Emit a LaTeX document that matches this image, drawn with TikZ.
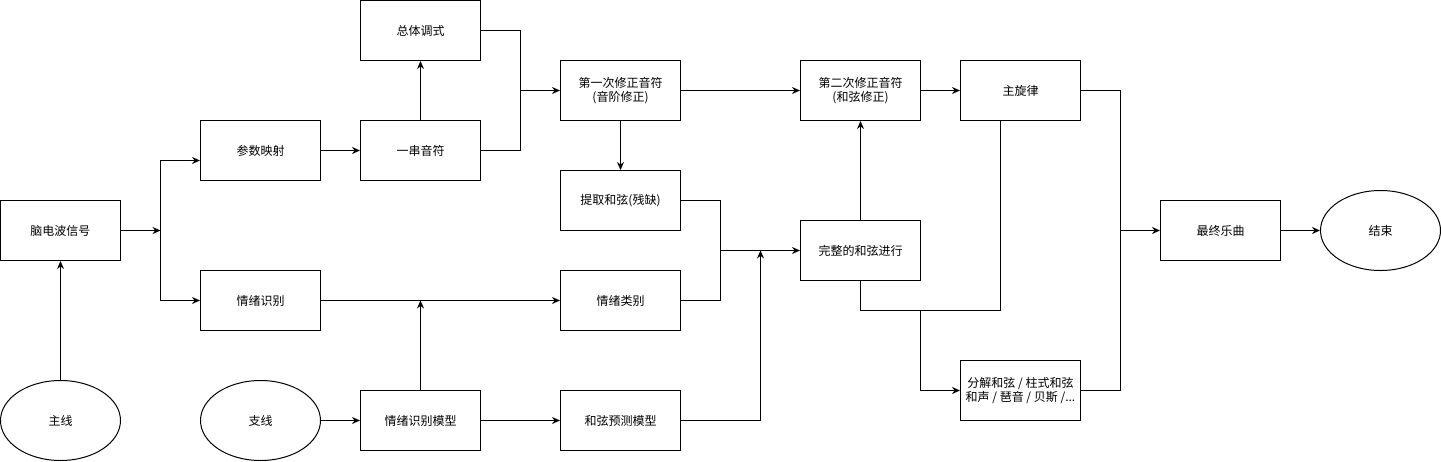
\documentclass[tikz,border=0pt]{standalone}
\usepackage{fontspec}
\setmainfont{Noto Sans CJK SC}
\usetikzlibrary{shapes.geometric,arrows.meta}
\begin{document}
\begin{tikzpicture}[x=1pt,y=-1pt,
  box/.style={draw,line width=1pt,minimum width=120pt,minimum height=60pt,inner sep=0pt,align=center,font=\fontsize{12pt}{14pt}\selectfont},
  oval/.style={draw,line width=1pt,ellipse,minimum width=120pt,minimum height=80pt,inner sep=0pt,font=\fontsize{12pt}{14pt}\selectfont},
  conn/.style={line width=1pt},
  arr/.style={line width=1pt,-{Stealth[length=8pt,width=7pt]}}]
\useasboundingbox (-0.5,-0.5) rectangle (1440.5,460.5);
\node[box] (eeg) at (60,230) {脑电波信号};
\node[box] (param) at (260,150) {参数映射};
\node[box] (notes) at (420,150) {一串音符};
\node[box] (mode) at (420,30) {总体调式};
\node[box] (fix1) at (620,90) {第一次修正音符\\(音阶修正)};
\node[box] (chord) at (620,200) {提取和弦(残缺)};
\node[box] (emocls) at (620,300) {情绪类别};
\node[box] (emo) at (260,300) {情绪识别};
\node[oval] (mainl) at (60,420) {主线};
\node[oval] (branch) at (260,420) {支线};
\node[box] (emomodel) at (420,420) {情绪识别模型};
\node[box] (chordmodel) at (620,420) {和弦预测模型};
\node[box] (fix2) at (860,90) {第二次修正音符\\(和弦修正)};
\node[box] (full) at (860,250) {完整的和弦进行};
\node[box] (melody) at (1020,90) {主旋律};
\node[box] (arrange) at (1020,390) {分解和弦 / 柱式和弦\\和声 / 琶音 / 贝斯 /...};
\node[box] (final) at (1220,230) {最终乐曲};
\node[oval] (endn) at (1380,230) {结束};
\coordinate (s1) at (160,230);
\coordinate (j1) at (520,90);
\coordinate (j2) at (720,250);
\coordinate (j3) at (760,250);
\coordinate (j4) at (1000,310);
\coordinate (j5) at (920,310);
\coordinate (j6) at (1120,230);
\draw[arr] (mainl.north) -- (eeg.south);
\draw[arr] (eeg.east) -- (s1);
\draw[arr] (s1) |- ([yshift=-10pt]param.west);
\draw[arr] (s1) |- (emo.west);
\draw[arr] (param.east) -- (notes.west);
\draw[arr] (notes.north) -- (mode.south);
\draw[conn] (mode.east) -| (j1);
\draw[conn] (notes.east) -| (j1);
\draw[arr] (j1) -- (fix1.west);
\draw[arr] (fix1.east) -- (fix2.west);
\draw[arr] (fix1.south) -- (chord.north);
\draw[conn] (chord.east) -| (j2);
\draw[conn] (emocls.east) -| (j2);
\draw[arr] (j2) -- (full.west);
\draw[arr] (chordmodel.east) -| (j3);
\draw[arr] (emo.east) -- (emocls.west);
\draw[arr] (emomodel.north) -- (emomodel.north |- emo.east);
\draw[arr] (branch.east) -- (emomodel.west);
\draw[arr] (emomodel.east) -- (chordmodel.west);
\draw[arr] (full.north) -- (fix2.south);
\draw[arr] (fix2.east) -- (melody.west);
\draw[conn] (full.south) |- (j4) -- (j4 |- melody.south);
\draw[arr] (j5) |- (arrange.west);
\draw[conn] (melody.east) -| (j6);
\draw[conn] (arrange.east) -| (j6);
\draw[arr] (j6) -- (final.west);
\draw[arr] (final.east) -- (endn.west);
\end{tikzpicture}
\end{document}
